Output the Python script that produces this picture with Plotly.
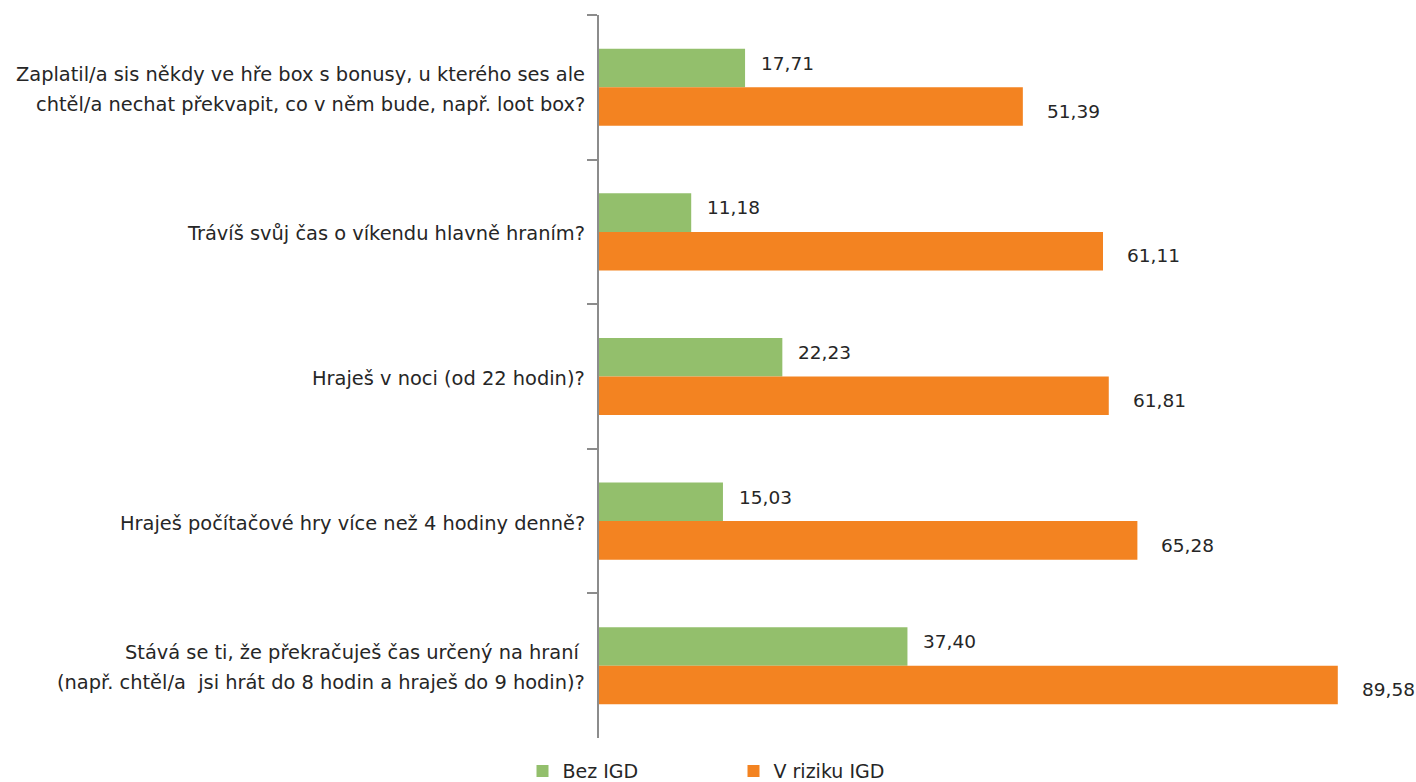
import plotly.graph_objects as go

# Survey questions (top to bottom), each split into display lines
questions = [
    ["Zaplatil/a sis někdy ve hře box s bonusy, u kterého ses ale",
     "chtěl/a nechat překvapit, co v něm bude, např. loot box?"],
    ["Trávíš svůj čas o víkendu hlavně hraním?"],
    ["Hraješ v noci (od 22 hodin)?"],
    ["Hraješ počítačové hry více než 4 hodiny denně?"],
    ["Stává se ti, že překračuješ čas určený na hraní ",
     "(např. chtěl/a  jsi hrát do 8 hodin a hraješ do 9 hodin)?"],
]
categories = [" ".join(q) for q in questions]

series_names = ["Bez IGD", "V riziku IGD"]
bez_igd = [17.71, 11.18, 22.23, 15.03, 37.40]
v_riziku_igd = [51.39, 61.11, 61.81, 65.28, 89.58]

colors = ["#93BF6C", "#F38321"]
text_color = "#262626"
font_family = "DejaVu Sans, Open Sans, sans-serif"
value_size = 18.5
label_size = 19.4

fig = go.Figure()
for name, vals, col in zip(series_names, [bez_igd, v_riziku_igd], colors):
    fig.add_trace(go.Bar(
        y=categories, x=vals, name=name, orientation="h",
        marker=dict(color=col, line=dict(width=0)),
    ))

def fmt(v):
    return f"{v:.2f}".replace(".", ",")

annotations = []
# value labels beside each bar
for vals, yshift, xshift in [(bez_igd, 24, 14), (v_riziku_igd, -24, 22)]:
    for cat, v in zip(categories, vals):
        annotations.append(dict(
            x=v, y=cat, xref="x", yref="y", text=fmt(v), showarrow=False,
            xanchor="left", yanchor="middle", xshift=xshift, yshift=yshift,
            font=dict(size=value_size, color=text_color, family=font_family),
        ))

# question labels, right-aligned against the axis, one line per annotation
for cat, lines in zip(categories, questions):
    n = len(lines)
    for i, line in enumerate(lines):
        annotations.append(dict(
            x=0, y=cat, xref="paper", yref="y", text=line, showarrow=False,
            xanchor="right", yanchor="middle", xshift=-12,
            yshift=((n - 1) / 2 - i) * 30 - 2,
            font=dict(size=label_size, color=text_color, family=font_family),
        ))

fig.update_layout(
    width=1416, height=782,
    margin=dict(l=599, r=17, t=15, b=44, autoexpand=False),
    paper_bgcolor="white", plot_bgcolor="white",
    barmode="group", bargap=0.467, bargroupgap=0,
    font=dict(family=font_family, size=value_size, color=text_color),
    xaxis=dict(range=[0, 97], visible=False, fixedrange=True),
    yaxis=dict(
        autorange="reversed", showticklabels=False, showgrid=False,
        showline=True, linecolor="#8C8C8C", linewidth=1.5,
        ticks="outside", tickson="boundaries", ticklen=10,
        tickcolor="#8C8C8C", tickwidth=1.5, zeroline=False,
    ),
    legend=dict(
        orientation="h", x=0.369, xanchor="left", xref="container",
        y=0.014, yanchor="middle", yref="container",
        entrywidth=166, entrywidthmode="pixels",
        font=dict(size=19, color=text_color, family=font_family),
        traceorder="normal",
    ),
    annotations=annotations,
    showlegend=True,
)

fig.write_html("out.html")
